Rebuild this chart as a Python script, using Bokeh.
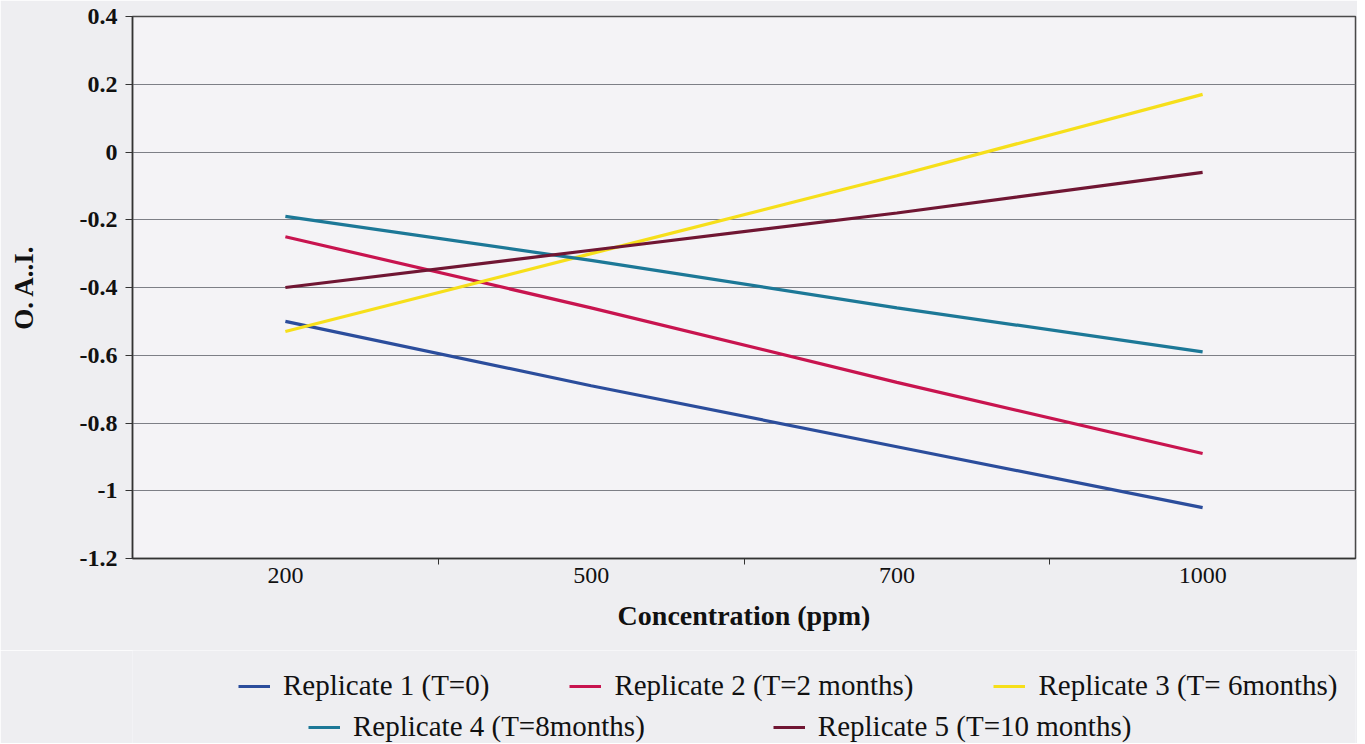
from bokeh.plotting import figure
from bokeh.layouts import column
from bokeh.models import (Range1d, FixedTicker, Legend, LegendItem, ColumnDataSource)
from bokeh.embed import file_html
from bokeh.resources import INLINE

# ---- data ----
concentrations = ["200", "500", "700", "1000"]
rep1 = [-0.50, -0.69, -0.87, -1.05]
rep2 = [-0.25, -0.46, -0.68, -0.89]
rep3 = [-0.53, -0.30, -0.07, 0.17]
rep4 = [-0.19, -0.32, -0.46, -0.59]
rep5 = [-0.40, -0.29, -0.18, -0.06]

series_names = ["Replicate 1 (T=0)", "Replicate 2 (T=2 months)", "Replicate 3 (T= 6months)",
                "Replicate 4 (T=8months)", "Replicate 5 (T=10 months)"]
series_values = [rep1, rep2, rep3, rep4, rep5]
series_colors = ["#2b4d9c", "#c8144f", "#f6df1a", "#1c7897", "#701633"]

y_ticks = [-1.2, -1.0, -0.8, -0.6, -0.4, -0.2, 0.0, 0.2, 0.4]
y_tick_labels = ["-1.2", "-1", "-0.8", "-0.6", "-0.4", "-0.2", "0", "0.2", "0.4"]

# category centres / boundaries on a numeric axis
x_pos = [i + 0.5 for i in range(len(concentrations))]
x_bounds = [float(i) for i in range(1, len(concentrations))]

SERIF = "Liberation Serif"
PAGE_BG = "#eeeef1"
W = 1357

p = figure(width=W, height=650, output_backend="svg", toolbar_location=None,
           x_range=Range1d(0, len(concentrations)), y_range=Range1d(-1.2, 0.4),
           min_border_left=132, min_border_right=2, min_border_top=16, min_border_bottom=92)

p.background_fill_color = "#f4f3f6"
p.border_fill_color = PAGE_BG
p.outline_line_color = "#4a4a4a"
p.outline_line_width = 1.5

# grid
p.xgrid.visible = False
p.ygrid.grid_line_color = "#7d7f86"
p.ygrid.grid_line_width = 1.2

# x axis
xa = p.xaxis[0]
xa.ticker = FixedTicker(ticks=x_pos, minor_ticks=x_bounds)
xa.major_label_overrides = {x: c for x, c in zip(x_pos, concentrations)}
xa.major_tick_line_color = None
xa.major_tick_out = 0
xa.major_tick_in = 0
xa.minor_tick_line_color = "#333333"
xa.minor_tick_out = 6
xa.minor_tick_in = 0
xa.axis_line_color = "#333333"
xa.axis_line_width = 1.5
xa.major_label_text_font = SERIF
xa.major_label_text_font_size = "24px"
xa.major_label_text_color = "#111111"
xa.major_label_standoff = 3
xa.axis_label = "Concentration (ppm)"
xa.axis_label_text_font = SERIF
xa.axis_label_text_font_style = "bold"
xa.axis_label_text_font_size = "28px"
xa.axis_label_text_color = "#111111"
xa.axis_label_standoff = 14

# y axis
ya = p.yaxis[0]
ya.ticker = FixedTicker(ticks=y_ticks)
ya.major_label_overrides = {v: s for v, s in zip(y_ticks, y_tick_labels)}
ya.major_tick_line_color = "#333333"
ya.major_tick_out = 7
ya.major_tick_in = 0
ya.minor_tick_line_color = None
ya.axis_line_color = "#333333"
ya.axis_line_width = 1.5
ya.major_label_text_font = SERIF
ya.major_label_text_font_style = "bold"
ya.major_label_text_font_size = "24px"
ya.major_label_text_color = "#111111"
ya.major_label_standoff = 8
ya.axis_label = "O. A..I."
ya.axis_label_text_font = SERIF
ya.axis_label_text_font_style = "bold"
ya.axis_label_text_font_size = "27px"
ya.axis_label_text_color = "#111111"
ya.axis_label_standoff = 38

for name, vals, col in zip(series_names, series_values, series_colors):
    src = ColumnDataSource(dict(x=x_pos, y=vals))
    p.line("x", "y", source=src, line_color=col, line_width=3.2)

# ---- legend strip below the chart ----
lg = figure(width=W, height=93, output_backend="svg", toolbar_location=None,
            x_axis_type=None, y_axis_type=None, x_range=Range1d(0, 1), y_range=Range1d(0, 1),
            min_border_left=132, min_border_right=2, min_border_top=0, min_border_bottom=0)
lg.outline_line_color = None
lg.background_fill_color = PAGE_BG
lg.border_fill_color = PAGE_BG
lg.xgrid.visible = False
lg.ygrid.visible = False

# hidden proxy renderers (same series) that only feed the legend swatches
proxies = []
for vals, col in zip(series_values, series_colors):
    proxies.append(lg.line(x=x_pos, y=vals, line_color=col, line_width=3, visible=False))


def make_legend(idx, loc, spacing):
    return Legend(items=[LegendItem(label=series_names[i], renderers=[proxies[i]]) for i in idx],
                  orientation="horizontal", location=loc, spacing=spacing,
                  padding=0, margin=0, border_line_color=None, background_fill_alpha=0,
                  label_text_font=SERIF, label_text_font_size="29px", label_text_color="#111111",
                  glyph_width=32, glyph_height=28, label_height=28, label_standoff=13,
                  click_policy="none")


lg.add_layout(make_legend([0, 1, 2], (106, 41), 80), "center")
lg.add_layout(make_legend([3, 4], (176, 0), 128), "center")

open("out.html", "w").write(file_html(column(p, lg, spacing=0), INLINE))
